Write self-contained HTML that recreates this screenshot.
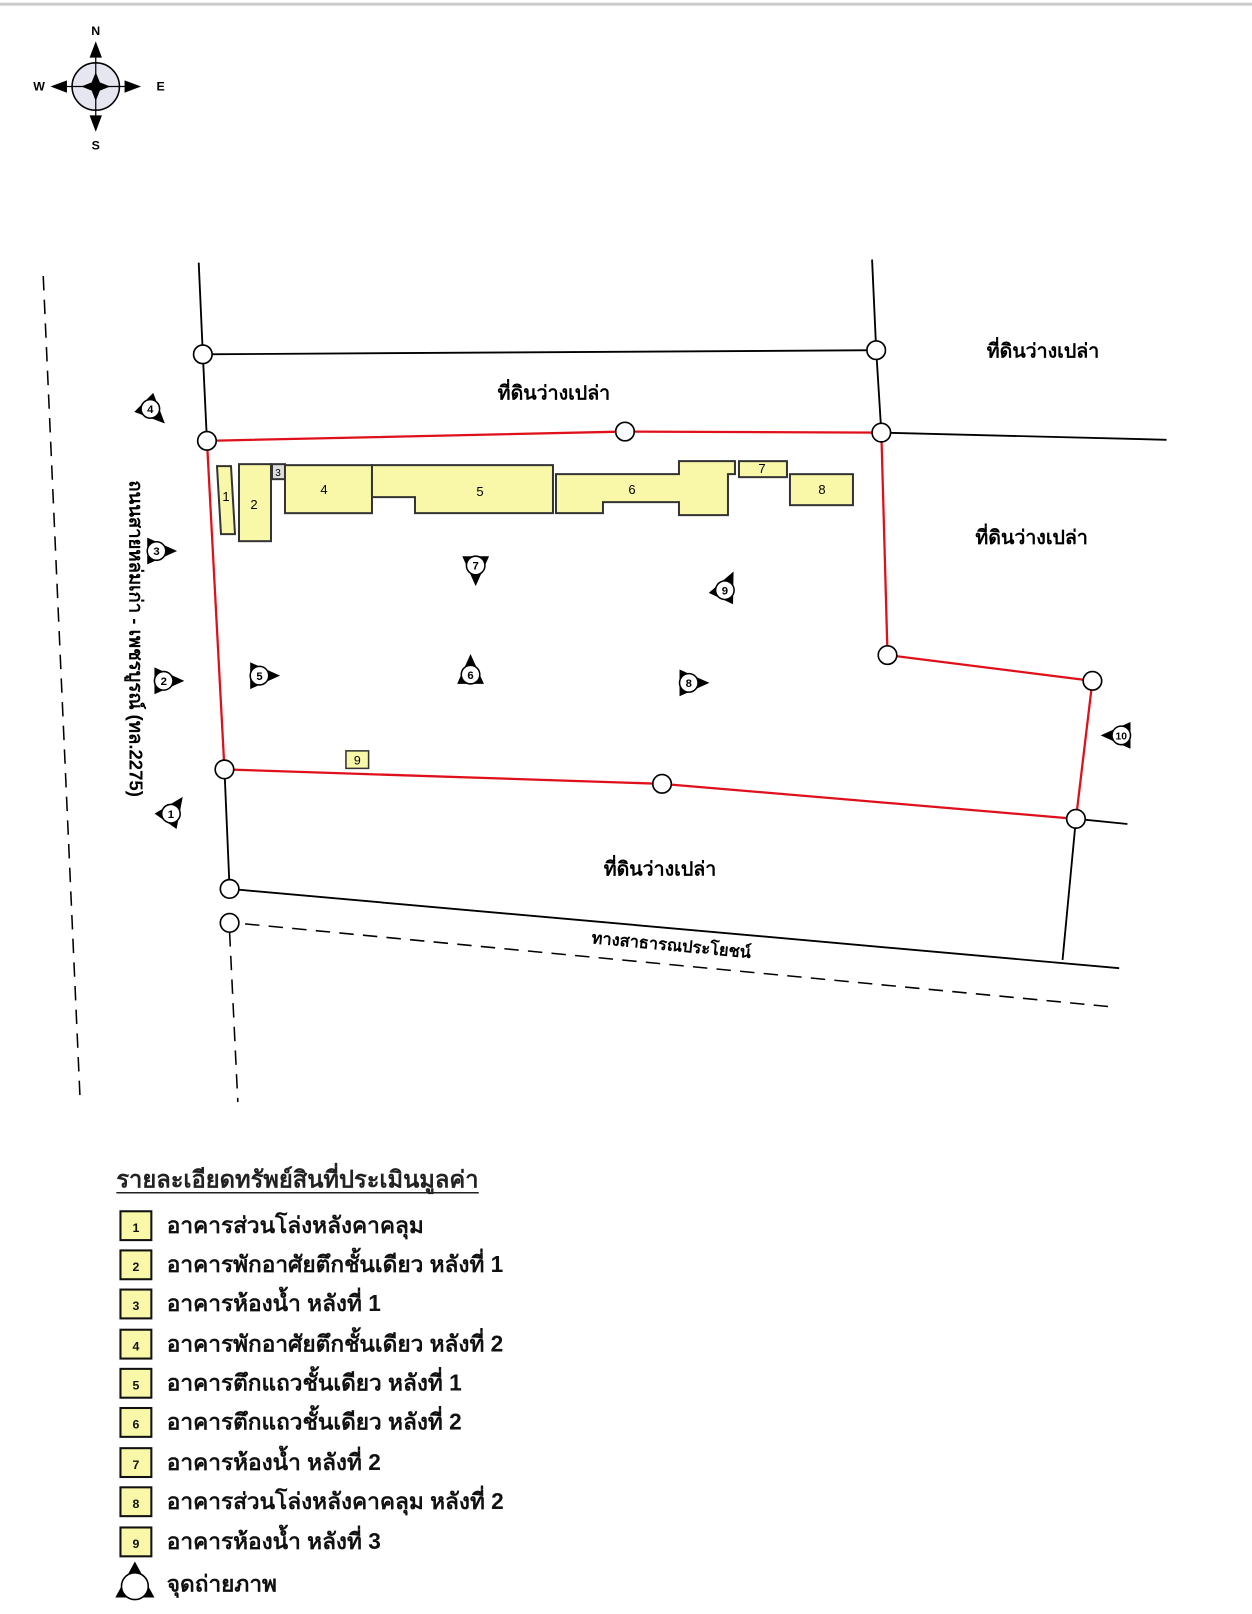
<!DOCTYPE html>
<html><head><meta charset="utf-8"><style>
html,body{margin:0;padding:0;background:#fff;}
svg{display:block;}
text{font-family:"Liberation Sans","Noto Sans CJK SC","WenQuanYi Zen Hei",sans-serif;}
</style></head><body>
<svg width="1252" height="1614" viewBox="0 0 1216 1567" preserveAspectRatio="none" xmlns="http://www.w3.org/2000/svg">
<defs>
<g id="cam">
<polygon points="0,-20 13,9 -13,9" fill="#000"/>
<circle cx="0" cy="0" r="9" fill="#fff" stroke="#000" stroke-width="1.5"/>
</g>
</defs>
<rect x="0" y="0" width="1216" height="1567" fill="#fff"/>
<line x1="0" y1="4" x2="1216" y2="4" stroke="#ccc" stroke-width="3"/>

<!-- compass -->
<g transform="translate(93,84)">
<circle r="23" fill="#e6e6f0" stroke="#000" stroke-width="1.5"/>
<line x1="-30" y1="0" x2="30" y2="0" stroke="#000" stroke-width="1.2"/>
<line x1="0" y1="-30" x2="0" y2="30" stroke="#000" stroke-width="1.2"/>
<polygon points="0,-14 4,-4 14,0 4,4 0,14 -4,4 -14,0 -4,-4" fill="#000"/>
<polygon points="0,-44 -6,-28 6,-28" fill="#000"/>
<polygon points="0,44 -6,28 6,28" fill="#000"/>
<polygon points="-44,0 -28,-6 -28,6" fill="#000"/>
<polygon points="44,0 28,-6 28,6" fill="#000"/>
<text x="0" y="-50" font-size="12" font-weight="bold" text-anchor="middle">N</text>
<text x="0" y="61" font-size="12" font-weight="bold" text-anchor="middle">S</text>
<text x="-55" y="4" font-size="12" font-weight="bold" text-anchor="middle">W</text>
<text x="63" y="4" font-size="12" font-weight="bold" text-anchor="middle">E</text>
</g>

<!-- dashed lines -->
<line x1="42" y1="268" x2="78" y2="1072" stroke="#000" stroke-width="1.5" stroke-dasharray="14,9"/>
<line x1="223" y1="905" x2="231" y2="1070" stroke="#000" stroke-width="1.5" stroke-dasharray="14,9"/>
<line x1="238" y1="897" x2="1085" y2="978" stroke="#000" stroke-width="1.5" stroke-dasharray="14,9"/>

<!-- black lines -->
<g stroke="#000" stroke-width="1.8" fill="none">
<polyline points="193,255 197,344 201,428"/>
<line x1="197" y1="344" x2="851" y2="340"/>
<polyline points="847,252 851,340 856,420"/>
<line x1="856" y1="420" x2="1133" y2="427"/>
<line x1="218" y1="747" x2="223" y2="863"/>
<line x1="223" y1="863" x2="1087" y2="940"/>
<line x1="1045" y1="795" x2="1095" y2="800"/>
<line x1="1045" y1="795" x2="1032" y2="932"/>
</g>
<!-- red boundary -->
<polygon points="201,428 607,419 856,420 862,636 1061,661 1045,795 643,761 218,747" fill="none" stroke="#e0101a" stroke-width="2.2"/>

<!-- buildings (original coordinates) -->
<g transform="scale(0.9712)" fill="#f8f8a8" stroke="#333" stroke-width="2">
<polygon points="217,466 231,466 235,534 221,534"/>
<rect x="239" y="464" width="32" height="77"/>
<rect x="272" y="464" width="13" height="15" fill="#ddd"/>
<rect x="285" y="465" width="87" height="48"/>
<polygon points="372,465 553,465 553,513 415,513 415,497 372,497"/>
<polygon points="556,474 679,474 679,461 735,461 735,474 728,474 728,515 679,515 679,502 603,502 603,513 556,513"/>
<rect x="739" y="461" width="48" height="16"/>
<rect x="790" y="474" width="63" height="31"/>
<g fill="#000" stroke="none" font-size="13" text-anchor="middle">
<text x="226" y="501">1</text>
<text x="254" y="509">2</text>
<text x="278" y="476" font-size="10">3</text>
<text x="324" y="494">4</text>
<text x="480" y="496">5</text>
<text x="632" y="494">6</text>
<text x="762" y="473">7</text>
<text x="822" y="494">8</text>
</g>
</g>
<rect x="336" y="729" width="22" height="17" fill="#f8f8a8" stroke="#333" stroke-width="1.5"/>
<text x="347" y="742" font-size="12" text-anchor="middle">9</text>

<!-- circles -->
<g fill="#fff" stroke="#000" stroke-width="1.6">
<circle cx="197" cy="344" r="9"/><circle cx="851" cy="340" r="9"/>
<circle cx="201" cy="428" r="9"/><circle cx="607" cy="419" r="9"/>
<circle cx="856" cy="420" r="9"/><circle cx="862" cy="636" r="9"/>
<circle cx="1061" cy="661" r="9"/><circle cx="1045" cy="795" r="9"/>
<circle cx="643" cy="761" r="9"/><circle cx="218" cy="747" r="9"/>
<circle cx="223" cy="863" r="9"/><circle cx="223" cy="896" r="9"/>
</g>

<!-- area labels -->
<g font-size="19" font-weight="bold" text-anchor="middle">
<text x="1013" y="347">ที่ดินว่างเปล่า</text>
<text x="538" y="388">ที่ดินว่างเปล่า</text>
<text x="1002" y="528">ที่ดินว่างเปล่า</text>
<text x="641" y="850">ที่ดินว่างเปล่า</text>
</g>
<text x="652" y="923" font-size="16" font-weight="bold" text-anchor="middle" transform="rotate(5.3 652 918)">ทางสาธารณประโยชน์</text>
<text x="0" y="0" font-size="18" font-weight="bold" text-anchor="middle" transform="translate(126,620) rotate(90)">ถนนสายหล่มเก่า - เพชรบูรณ์ (ทล.2275)</text>

<!-- camera markers -->
<g font-size="11" font-weight="bold" text-anchor="middle">
<g transform="translate(166,790)"><use href="#cam" transform="rotate(35)"/><text y="4">1</text></g>
<g transform="translate(159,661)"><use href="#cam" transform="rotate(90)"/><text y="4">2</text></g>
<g transform="translate(152,535)"><use href="#cam" transform="rotate(90)"/><text y="4">3</text></g>
<g transform="translate(146,397)"><use href="#cam" transform="rotate(135)"/><text y="4">4</text></g>
<g transform="translate(252,656)"><use href="#cam" transform="rotate(90)"/><text y="4">5</text></g>
<g transform="translate(457,655)"><use href="#cam" transform="rotate(0)"/><text y="4">6</text></g>
<g transform="translate(462,549)"><use href="#cam" transform="rotate(180)"/><text y="4">7</text></g>
<g transform="translate(669,663)"><use href="#cam" transform="rotate(90)"/><text y="4">8</text></g>
<g transform="translate(704,573)"><use href="#cam" transform="rotate(25)"/><text y="4">9</text></g>
<g transform="translate(1089,714)"><use href="#cam" transform="rotate(-90)"/><text y="4" font-size="10">10</text></g>
</g>

<!-- legend -->
<text x="113" y="1153" font-size="23" font-weight="bold" fill="#222">รายละเอียดทรัพย์สินที่ประเมินมูลค่า</text>
<line x1="113" y1="1158" x2="465" y2="1158" stroke="#222" stroke-width="1.5"/>
<g font-size="22" font-weight="bold" fill="#111">
<g transform="translate(0,1190)"><rect x="117" y="-14" width="30" height="28" fill="#f8f8a8" stroke="#111" stroke-width="2"/><text x="132" y="6" font-size="12" text-anchor="middle">1</text><text x="162" y="7">อาคารส่วนโล่งหลังคาคลุม</text></g>
<g transform="translate(0,1228)"><rect x="117" y="-14" width="30" height="28" fill="#f8f8a8" stroke="#111" stroke-width="2"/><text x="132" y="6" font-size="12" text-anchor="middle">2</text><text x="162" y="7">อาคารพักอาศัยตึกชั้นเดียว หลังที่ 1</text></g>
<g transform="translate(0,1266)"><rect x="117" y="-14" width="30" height="28" fill="#f8f8a8" stroke="#111" stroke-width="2"/><text x="132" y="6" font-size="12" text-anchor="middle">3</text><text x="162" y="7">อาคารห้องน้ำ หลังที่ 1</text></g>
<g transform="translate(0,1305)"><rect x="117" y="-14" width="30" height="28" fill="#f8f8a8" stroke="#111" stroke-width="2"/><text x="132" y="6" font-size="12" text-anchor="middle">4</text><text x="162" y="7">อาคารพักอาศัยตึกชั้นเดียว หลังที่ 2</text></g>
<g transform="translate(0,1343)"><rect x="117" y="-14" width="30" height="28" fill="#f8f8a8" stroke="#111" stroke-width="2"/><text x="132" y="6" font-size="12" text-anchor="middle">5</text><text x="162" y="7">อาคารตึกแถวชั้นเดียว หลังที่ 1</text></g>
<g transform="translate(0,1381)"><rect x="117" y="-14" width="30" height="28" fill="#f8f8a8" stroke="#111" stroke-width="2"/><text x="132" y="6" font-size="12" text-anchor="middle">6</text><text x="162" y="7">อาคารตึกแถวชั้นเดียว หลังที่ 2</text></g>
<g transform="translate(0,1420)"><rect x="117" y="-14" width="30" height="28" fill="#f8f8a8" stroke="#111" stroke-width="2"/><text x="132" y="6" font-size="12" text-anchor="middle">7</text><text x="162" y="7">อาคารห้องน้ำ หลังที่ 2</text></g>
<g transform="translate(0,1458)"><rect x="117" y="-14" width="30" height="28" fill="#f8f8a8" stroke="#111" stroke-width="2"/><text x="132" y="6" font-size="12" text-anchor="middle">8</text><text x="162" y="7">อาคารส่วนโล่งหลังคาคลุม หลังที่ 2</text></g>
<g transform="translate(0,1497)"><rect x="117" y="-14" width="30" height="28" fill="#f8f8a8" stroke="#111" stroke-width="2"/><text x="132" y="6" font-size="12" text-anchor="middle">9</text><text x="162" y="7">อาคารห้องน้ำ หลังที่ 3</text></g>
<g transform="translate(131,1540)"><polygon points="0,-24 19,11 -19,11" fill="#000"/><circle r="13" fill="#fff" stroke="#000" stroke-width="1.5"/></g>
<text x="162" y="1545">จุดถ่ายภาพ</text>
</g>
</svg>
</body></html>
